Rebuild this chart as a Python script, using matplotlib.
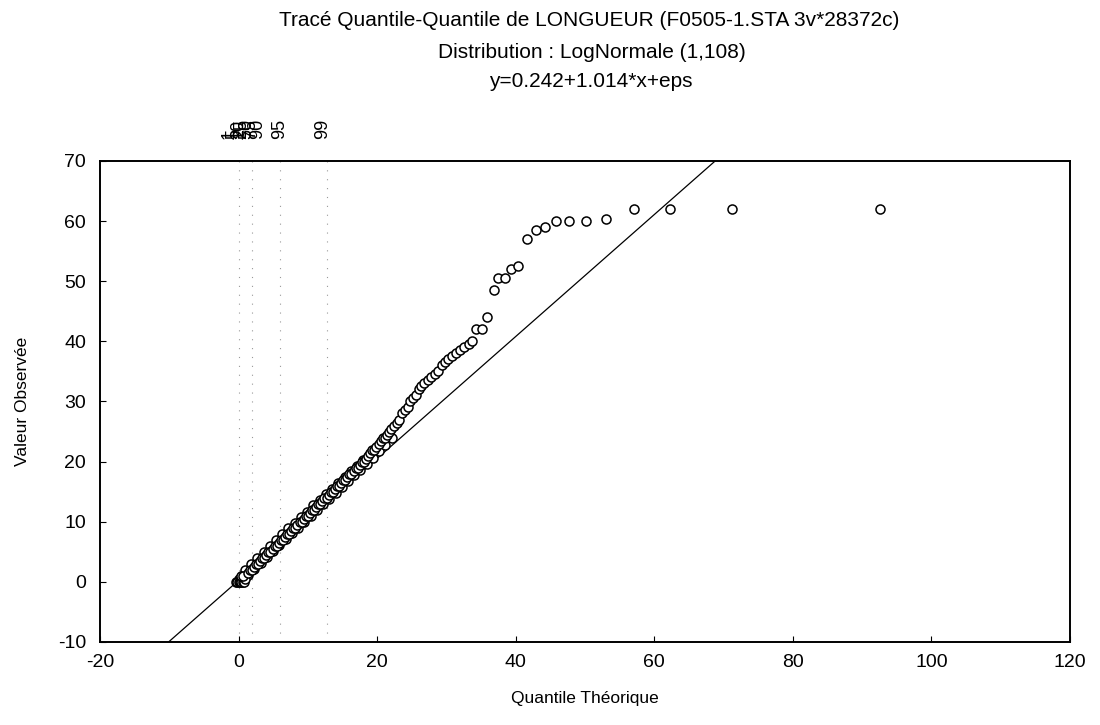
import numpy as np
import matplotlib.pyplot as plt

plt.rcParams['font.family'] = ['Liberation Sans', 'DejaVu Sans']
plt.rcParams['axes.unicode_minus'] = False

quant_x = [-0.4, -0.2, 0.0, 0.2, 0.4, 0.6, 0.8, 1.0, 0.3, 0.7,
           1.3, 1.6, 1.9, 2.2, 2.5, 2.8, 3.1, 3.4, 3.7, 4.0,
           4.3, 4.6, 4.9, 5.2, 5.5, 5.8, 6.1, 6.4, 6.7, 7.0,
           7.3, 7.6, 7.9, 8.2, 8.5, 8.8, 9.1, 9.4, 9.7, 10.0,
           10.3, 10.6, 10.9, 11.2, 11.5, 11.8, 12.1, 12.4, 12.7, 13.0,
           13.3, 13.6, 13.9, 14.2, 14.5, 14.8, 15.1, 15.4, 15.7, 16.0,
           16.3, 16.6, 16.9, 17.2, 17.5, 17.8, 18.1, 18.4, 18.7, 19.0,
           19.3, 19.6, 19.9, 20.2, 20.5, 20.8, 21.1, 21.4, 21.7, 22.0,
           22.4, 22.8, 23.2, 23.6, 24.0, 24.4, 24.8, 25.2, 25.6, 26.0,
           26.4, 26.8, 27.3, 27.8, 28.3, 28.8, 29.3, 29.8, 30.3, 30.8,
           31.4, 32.0, 32.6, 33.2, 33.7, 34.3, 35.2, 35.9,
           36.8, 37.5, 38.5, 39.3, 40.3, 41.6, 42.9, 44.3, 45.8, 47.7,
           50.1, 53.0, 57.1, 62.3, 71.2, 92.6]
obs_y = [0.0, 0.0, 0.0, 0.0, 0.0, 0.0, 0.0, 0.5, 1.0, 1.0,
         1.5, 2.0, 2.0, 2.5, 3.0, 3.0, 3.5, 4.0, 4.0, 4.5,
         5.0, 5.0, 5.5, 6.0, 6.0, 6.5, 7.0, 7.0, 7.5, 8.0,
         8.0, 8.5, 9.0, 9.0, 9.5, 10.0, 10.0, 10.5, 11.0, 11.0,
         11.5, 12.0, 12.0, 12.5, 13.0, 13.0, 13.5, 14.0, 14.0, 14.5,
         15.0, 15.0, 15.5, 16.0, 16.0, 16.5, 17.0, 17.0, 17.5, 18.0,
         18.0, 18.5, 19.0, 19.0, 19.5, 20.0, 20.0, 20.5, 21.0, 21.5,
         22.0, 22.0, 22.5, 23.0, 23.5, 24.0, 24.0, 24.5, 25.0, 25.5,
         26.0, 26.5, 27.0, 28.0, 28.5, 29.0, 30.0, 30.5, 31.0, 32.0,
         32.5, 33.0, 33.5, 34.0, 34.5, 35.0, 36.0, 36.5, 37.0, 37.5,
         38.0, 38.5, 39.0, 39.5, 40.0, 42.0, 42.0, 44.0,
         48.5, 50.5, 50.5, 52.0, 52.5, 57.0, 58.5, 59.0, 60.0, 60.0,
         60.0, 60.3, 62.0, 62.0, 62.0, 62.0]

# extra overlapping points that make the lower band look solid
band_x = [0.1, 0.5, 0.9, 1.4, 1.8, 2.3, 2.7, 3.2, 3.6, 4.1,
          4.5, 5.0, 5.4, 5.9, 6.3, 6.8, 7.2, 7.7, 8.1, 8.6,
          9.0, 9.5, 9.9, 10.4, 10.8, 11.3, 11.7, 12.2, 12.6, 13.1,
          13.5, 14.0, 14.4, 14.9, 15.3, 15.8, 16.2, 16.7, 17.1, 17.6,
          18.0, 18.5, 18.9, 19.4, 19.8, 20.3, 20.7, 21.2, 21.6, 22.1]
band_y = [0.5, 0.2, 2.0, 1.2, 3.0, 2.2, 4.0, 3.2, 5.0, 4.2,
          6.0, 5.2, 7.0, 6.2, 7.9, 7.1, 8.9, 8.1, 9.8, 9.0,
          10.8, 10.0, 11.7, 10.9, 12.7, 11.9, 13.6, 12.9, 14.6, 13.8,
          15.5, 14.8, 16.5, 15.8, 17.4, 16.7, 18.4, 17.7, 19.3, 18.6,
          20.3, 19.6, 21.3, 20.6, 22.3, 21.7, 23.4, 22.8, 24.5, 24.0]

fit_a = 0.242
fit_b = 1.014

pct_labels = ['1', '5', '10', '25', '50', '75', '90', '95', '99']
pct_x = [-1.3, -0.7, -0.1, 0.4, 1.2, 1.7, 2.8, 5.9, 12.2]
dot_x = [0.0, 2.0, 6.0, 12.7]

fig = plt.figure(figsize=(11, 7.25), dpi=100)
ax = fig.add_axes([0.0909, 0.1145, 0.8818, 0.6635])

for xv in dot_x:
    ax.axvline(xv, color='#999999', lw=0.8, linestyle=(0, (1, 7)), zorder=1)

line_x = np.array([-20, 120])
ax.plot(line_x, fit_a + fit_b * line_x, color='black', lw=0.9, zorder=2)

ax.plot(band_x, band_y, 'o', mfc='white', mec='black', mew=1.1, ms=6.5, zorder=3)
ax.plot(quant_x, obs_y, 'o', mfc='white', mec='black', mew=1.1, ms=6.5, zorder=3)

for lab, xv in zip(pct_labels, pct_x):
    ax.text(xv, 1.045, lab, rotation=90, fontsize=13, ha='center', va='bottom',
            transform=ax.get_xaxis_transform())

ax.set_xlim(-20, 120)
ax.set_ylim(-10, 70)
ax.set_xticks(np.arange(-20, 121, 20))
ax.set_yticks(np.arange(-10, 71, 10))
ax.tick_params(direction='in', length=4, labelsize=14, top=False, right=False)
ax.tick_params(axis='x', pad=9)
ax.tick_params(axis='y', pad=10)
for sp in ax.spines.values():
    sp.set_linewidth(1.4)

ax.set_xlabel('Quantile Théorique', fontsize=12.5, labelpad=14)
ax.set_ylabel('Valeur Observée', fontsize=12.5, labelpad=20)

fig.text(0.536, 0.972, 'Tracé Quantile-Quantile de LONGUEUR (F0505-1.STA 3v*28372c)',
         ha='center', va='center', fontsize=15)
fig.text(0.538, 0.928, 'Distribution : LogNormale (1,108)',
         ha='center', va='center', fontsize=15)
fig.text(0.537, 0.887, 'y=0.242+1.014*x+eps',
         ha='center', va='center', fontsize=15)

fig.savefig('out.png', dpi=100)
